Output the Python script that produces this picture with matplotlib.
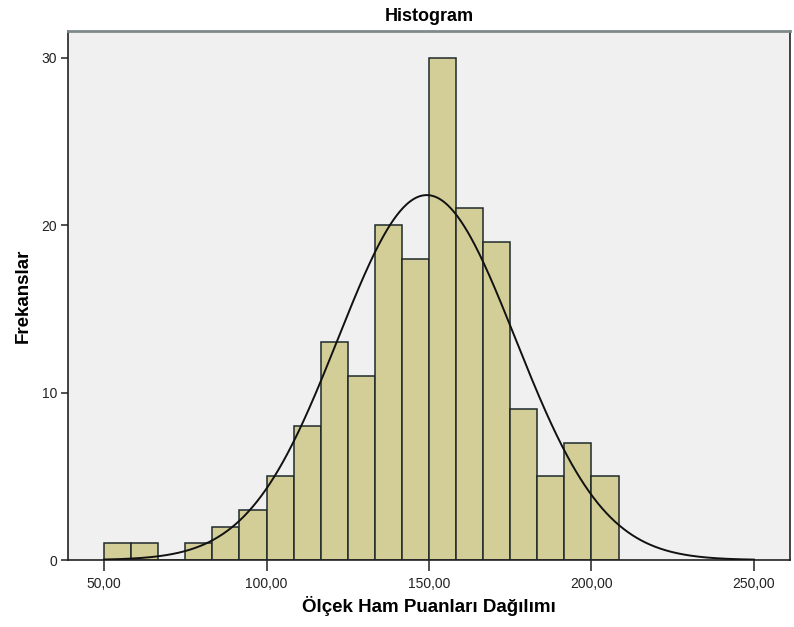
import numpy as np
import matplotlib
matplotlib.use("Agg")
import matplotlib.pyplot as plt

# bin edges start at 50 with width 50/6, counts
bin_start = 50.0
bin_width = 50.0 / 6
counts = [1, 1, 0, 1, 2, 3, 5, 8, 13, 11, 20, 18, 30, 21, 19, 9, 5, 7, 5]

# fitted normal curve (estimated from the curve peak)
curve_mean = 149.3
curve_sd = 27.3
curve_from, curve_to = 50, 250

x_ticks = [50, 100, 150, 200, 250]
x_tick_labels = ["50,00", "100,00", "150,00", "200,00", "250,00"]
y_ticks = [0, 10, 20, 30]

plt.rcParams["font.family"] = ["Liberation Sans", "DejaVu Sans"]

fig = plt.figure(figsize=(7.94, 6.27), dpi=100)
ax = fig.add_axes([68 / 794, 67 / 627, 722 / 794, 529 / 627])
ax.set_facecolor("#F0F0F0")

edges = bin_start + bin_width * np.arange(len(counts) + 1)
ax.bar(edges[:-1], counts, width=bin_width, align="edge",
       color="#D3CE97", edgecolor="#1F2A2A", linewidth=1.1, zorder=2)

n = sum(counts)
xs = np.linspace(curve_from, curve_to, 600)
ys = n * bin_width / (curve_sd * np.sqrt(2 * np.pi)) * np.exp(-0.5 * ((xs - curve_mean) / curve_sd) ** 2)
ax.plot(xs, ys, color="#111111", linewidth=1.4, zorder=3)

ax.set_xlim(38.9, 261.1)
ax.set_ylim(0, 31.6)
ax.set_xticks(x_ticks)
ax.set_xticklabels(x_tick_labels)
ax.set_yticks(y_ticks)
ax.tick_params(axis="x", direction="out", length=8, width=1.1, labelsize=10, pad=4, colors="#222222")
ax.tick_params(axis="y", direction="out", length=5, width=1.1, labelsize=10, pad=3, colors="#222222")

ax.spines["top"].set_color("#7F8A8A")
ax.spines["top"].set_linewidth(2)
for s in ["left", "right", "bottom"]:
    ax.spines[s].set_color("#222222")
    ax.spines[s].set_linewidth(1.2)

ax.set_title("Histogram", fontsize=13, fontweight="bold", pad=7)
ax.set_xlabel("Ölçek Ham Puanları Dağılımı", fontsize=13.5, fontweight="bold", labelpad=4)
ax.set_ylabel("Frekanslar", fontsize=13.5, fontweight="bold", labelpad=7)

fig.savefig("out.png", dpi=100, facecolor="white")
